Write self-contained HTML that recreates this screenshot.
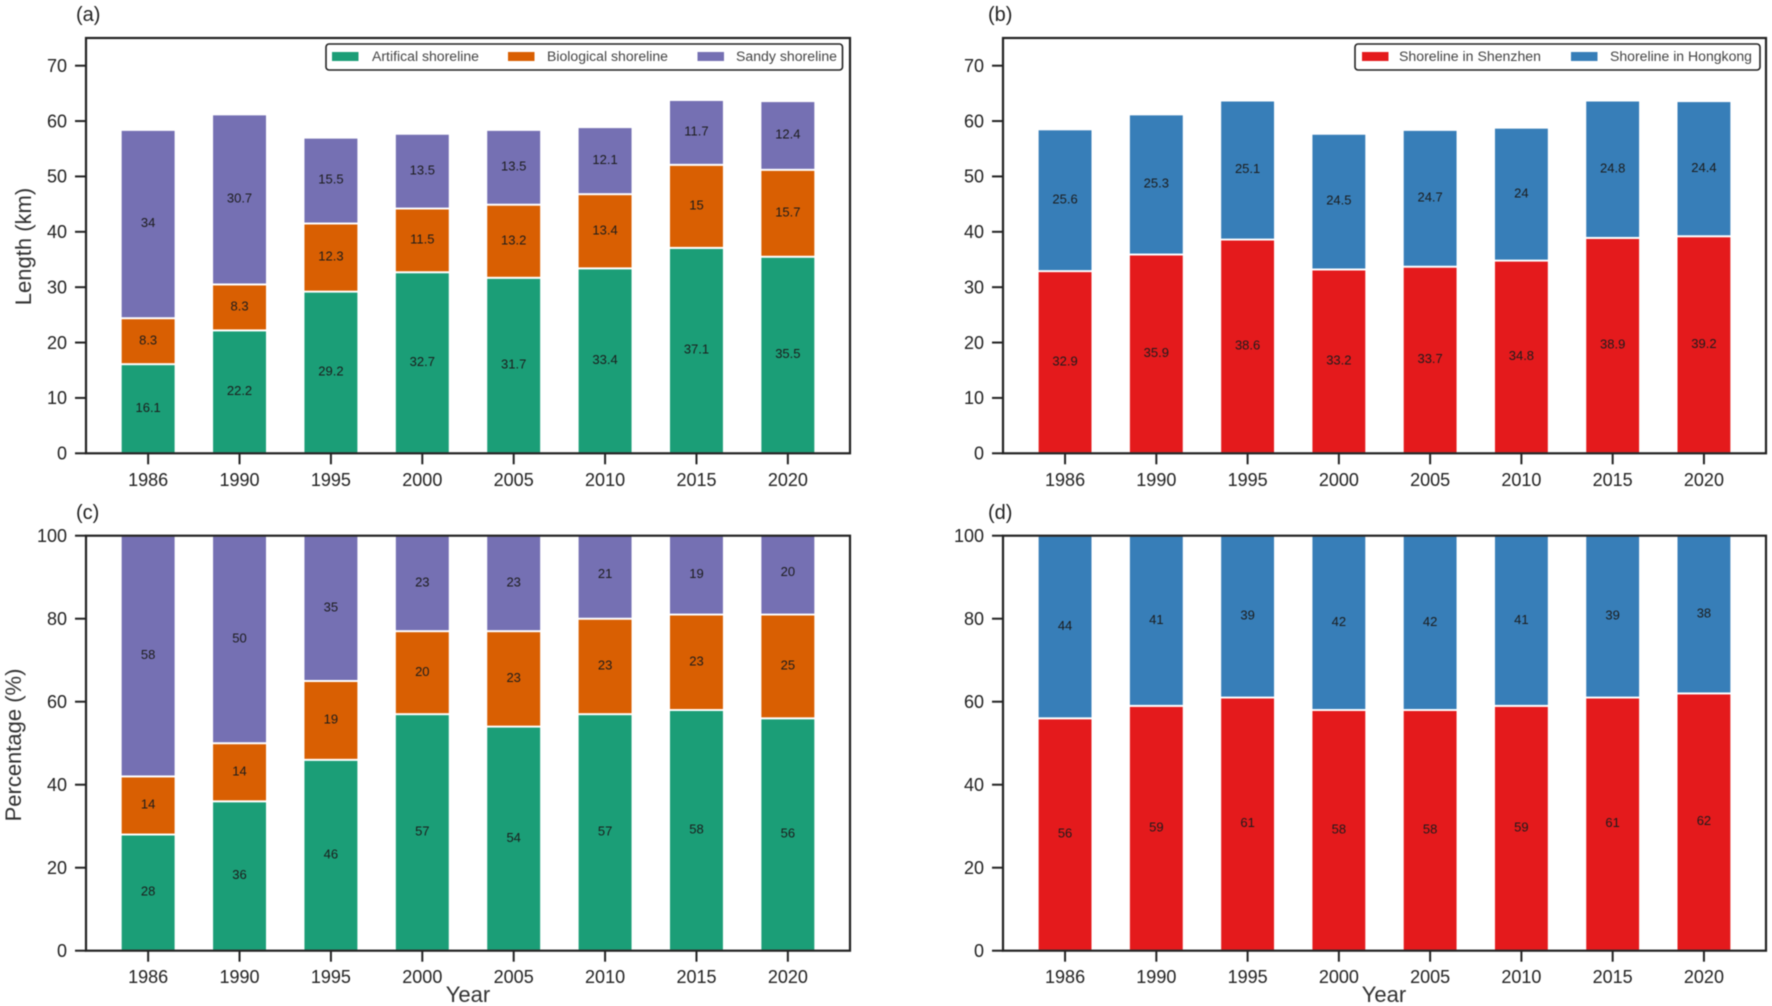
<!DOCTYPE html>
<html lang="en">
<head>
<meta charset="utf-8">
<title>Shoreline length and percentage, 1986-2020</title>
<style>
html,body{margin:0;padding:0;background:#fff;width:1772px;height:1006px;overflow:hidden}
svg{display:block;font-family:"Liberation Sans",Arial,sans-serif;filter:blur(0.55px)}
</style>
</head>
<body>
<svg id="figure" xmlns="http://www.w3.org/2000/svg" width="1772" height="1006" viewBox="0 0 1772 1006"></svg>
<script>
const years = [1986, 1990, 1995, 2000, 2005, 2010, 2015, 2020];
const artificialKm = [16.1, 22.2, 29.2, 32.7, 31.7, 33.4, 37.1, 35.5];
const biologicalKm = [8.3, 8.3, 12.3, 11.5, 13.2, 13.4, 15, 15.7];
const sandyKm = [34, 30.7, 15.5, 13.5, 13.5, 12.1, 11.7, 12.4];
const shenzhenKm = [32.9, 35.9, 38.6, 33.2, 33.7, 34.8, 38.9, 39.2];
const hongkongKm = [25.6, 25.3, 25.1, 24.5, 24.7, 24, 24.8, 24.4];
const artificialPct = [28, 36, 46, 57, 54, 57, 58, 56];
const biologicalPct = [14, 14, 19, 20, 23, 23, 23, 25];
const sandyPct = [58, 50, 35, 23, 23, 21, 19, 20];
const shenzhenPct = [56, 59, 61, 58, 58, 59, 61, 62];
const hongkongPct = [44, 41, 39, 42, 42, 41, 39, 38];
const lengthTicks = [0, 10, 20, 30, 40, 50, 60, 70];
const percentTicks = [0, 20, 40, 60, 80, 100];

const svg = document.getElementById('figure');
const NS = 'http://www.w3.org/2000/svg';
const INK = '#222222';

function make(tag, attrs, parent) {
  const el = document.createElementNS(NS, tag);
  for (const k in attrs) el.setAttribute(k, attrs[k]);
  (parent || svg).appendChild(el);
  return el;
}

function drawPanel(cfg) {
  const panel = make('g', {});
  
  

  const xUnit = (cfg.right - cfg.left) / (7.68 + 0.68);
  const xScale = function (i) { return cfg.left + (i + 0.68) * xUnit; };
  const yScale = function (v) { return cfg.bottom - (v / cfg.yMax) * (cfg.bottom - cfg.top); };
  const barWidth = 0.6 * xUnit;

  const clip = make('clipPath', { id: 'clip-' + cfg.id }, panel);
  make('rect', { x: cfg.left, y: cfg.top, width: cfg.right - cfg.left, height: cfg.bottom - cfg.top }, clip);

  const barsGroup = make('g', { 'clip-path': 'url(#clip-' + cfg.id + ')' }, panel);
  
  

  const labelTexts = [];
  years.forEach(function (year, i) {
    let base = 0;
    cfg.series.forEach(function (s) {
      const value = s.values[i];
      const y0 = yScale(base);
      const y1 = yScale(base + value);
      const bar = make('rect', {
        x: xScale(i) - barWidth / 2,
        y: y1,
        width: barWidth,
        height: y0 - y1,
        fill: s.color,
        stroke: '#ffffff',
        'stroke-width': 1.9
      }, barsGroup);
      
      
      labelTexts.push({ x: xScale(i), y: (y0 + y1) / 2, value: value, key: s.key, year: year });
      base += value;
    });
  });

  labelTexts.forEach(function (t) {
    const label = make('text', {
      x: t.x,
      y: t.y - 1.5 + 4.6,
      'text-anchor': 'middle',
      'font-size': 13,
      fill: '#1c1c1c'
    }, panel);
    
    
    label.textContent = String(t.value);
  });

  const frame = make('rect', {
    x: cfg.left, y: cfg.top, width: cfg.right - cfg.left, height: cfg.bottom - cfg.top,
    fill: 'none', stroke: INK, 'stroke-width': 2.2
  }, panel);
  
  

  cfg.ticks.forEach(function (tick) {
    const y = yScale(tick);
    const mark = make('line', { x1: cfg.left - 11, x2: cfg.left, y1: y, y2: y, stroke: INK, 'stroke-width': 2 }, panel);
    
    
    const label = make('text', {
      x: cfg.left - 19,
      y: y + 6.2,
      'text-anchor': 'end',
      'font-size': 18,
      fill: INK
    }, panel);
    
    
    label.textContent = String(tick);
  });

  years.forEach(function (year, i) {
    const x = xScale(i);
    const mark = make('line', { x1: x, x2: x, y1: cfg.bottom, y2: cfg.bottom + 11, stroke: INK, 'stroke-width': 2 }, panel);
    
    
    const label = make('text', {
      x: x,
      y: cfg.bottom + 32.5,
      'text-anchor': 'middle',
      'font-size': 18,
      fill: INK
    }, panel);
    
    
    label.textContent = String(year);
  });

  const letter = make('text', { x: cfg.letterX, y: cfg.letterY, 'font-size': 20, fill: INK }, panel);
  
  
  letter.textContent = '(' + cfg.id + ')';

  if (cfg.yTitle) {
    const title = make('text', {
      transform: 'translate(' + cfg.yTitleX + ' ' + cfg.yTitleY + ') rotate(-90)',
      'text-anchor': 'middle',
      'font-size': 22,
      fill: '#333333'
    }, panel);
    
    
    title.textContent = cfg.yTitle;
  }

  if (cfg.xTitleX) {
    const title = make('text', {
      x: cfg.xTitleX,
      y: 1002,
      'text-anchor': 'middle',
      'font-size': 22,
      fill: '#333333'
    }, panel);
    
    
    title.textContent = 'Year';
  }

  if (cfg.legend) {
    const lg = cfg.legend;
    const legendGroup = make('g', {}, panel);
    
    
    make('rect', {
      x: lg.x, y: lg.y, width: lg.w, height: lg.h, rx: 3, ry: 3,
      fill: '#ffffff', stroke: INK, 'stroke-width': 1.6
    }, legendGroup);
    lg.items.forEach(function (item) {
      const entry = make('g', {}, legendGroup);
      
      
      make('rect', { x: item.swatchX, y: lg.y + 8, width: 26.5, height: 9, fill: item.color }, entry);
      make('text', {
        x: item.textX, y: lg.y + 17, 'font-size': 13.5, fill: '#444444',
        textLength: item.textW, lengthAdjust: 'spacingAndGlyphs'
      }, entry).textContent = item.label;
    });
  }
}

const GREEN = '#1b9e77', ORANGE = '#d95f02', PURPLE = '#7570b3', RED = '#e41a1c', BLUE = '#377eb8';

drawPanel({
  id: 'a', left: 86, right: 850, top: 38, bottom: 453.3, yMax: 75, ticks: lengthTicks,
  letterX: 76, letterY: 21, yTitle: 'Length (km)', yTitleX: 31, yTitleY: 246.5,
  series: [
    { key: 'artificial-km', values: artificialKm, color: GREEN },
    { key: 'biological-km', values: biologicalKm, color: ORANGE },
    { key: 'sandy-km', values: sandyKm, color: PURPLE }
  ],
  legend: {
    x: 326, y: 44, w: 516.5, h: 26,
    items: [
      { key: 'artificial', label: 'Artifical shoreline', color: GREEN, swatchX: 332, textX: 372, textW: 107 },
      { key: 'biological', label: 'Biological shoreline', color: ORANGE, swatchX: 508, textX: 547, textW: 121 },
      { key: 'sandy', label: 'Sandy shoreline', color: PURPLE, swatchX: 697.5, textX: 736, textW: 101 }
    ]
  }
});

drawPanel({
  id: 'b', left: 1003, right: 1766, top: 38, bottom: 453.3, yMax: 75, ticks: lengthTicks,
  letterX: 988, letterY: 21,
  series: [
    { key: 'shenzhen-km', values: shenzhenKm, color: RED },
    { key: 'hongkong-km', values: hongkongKm, color: BLUE }
  ],
  legend: {
    x: 1355, y: 44, w: 405, h: 26,
    items: [
      { key: 'shenzhen', label: 'Shoreline in Shenzhen', color: RED, swatchX: 1362, textX: 1399, textW: 142 },
      { key: 'hongkong', label: 'Shoreline in Hongkong', color: BLUE, swatchX: 1571, textX: 1610, textW: 142 }
    ]
  }
});

drawPanel({
  id: 'c', left: 86, right: 850, top: 535.7, bottom: 950.7, yMax: 100, ticks: percentTicks,
  letterX: 76, letterY: 519, yTitle: 'Percentage (%)', yTitleX: 21, yTitleY: 745, xTitleX: 468,
  series: [
    { key: 'artificial-pct', values: artificialPct, color: GREEN },
    { key: 'biological-pct', values: biologicalPct, color: ORANGE },
    { key: 'sandy-pct', values: sandyPct, color: PURPLE }
  ]
});

drawPanel({
  id: 'd', left: 1003, right: 1766, top: 535.7, bottom: 950.7, yMax: 100, ticks: percentTicks,
  letterX: 988, letterY: 519, xTitleX: 1384,
  series: [
    { key: 'shenzhen-pct', values: shenzhenPct, color: RED },
    { key: 'hongkong-pct', values: hongkongPct, color: BLUE }
  ]
});
</script>
</body>
</html>
